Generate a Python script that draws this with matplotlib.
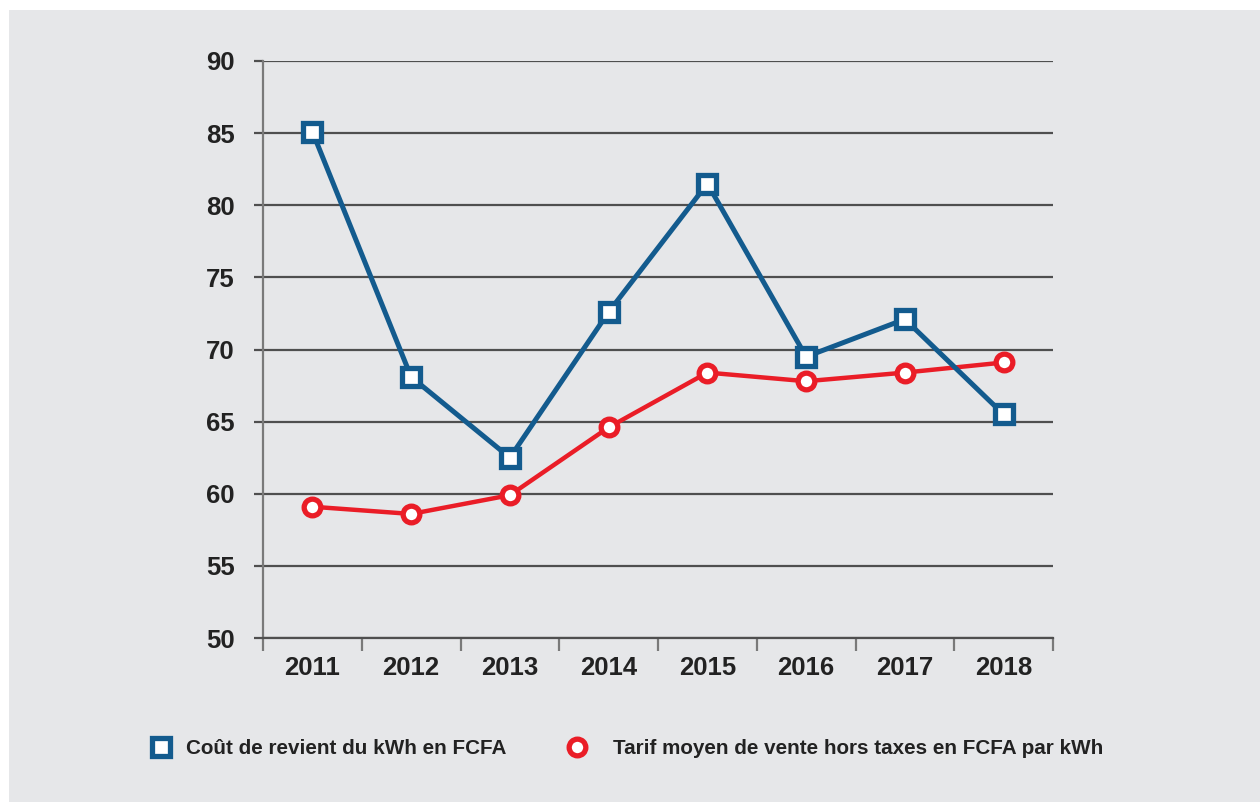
import matplotlib
matplotlib.use("Agg")
import matplotlib.pyplot as plt
from matplotlib.lines import Line2D
from matplotlib.patches import Rectangle
from matplotlib.ticker import FixedLocator, NullFormatter, FixedFormatter

plt.rcParams['font.family'] = ['Liberation Sans', 'DejaVu Sans']

years = ['2011', '2012', '2013', '2014', '2015', '2016', '2017', '2018']
cout_revient = [85.1, 68.1, 62.5, 72.6, 81.5, 69.5, 72.1, 65.5]
tarif_moyen = [59.1, 58.6, 59.9, 64.6, 68.4, 67.8, 68.4, 69.1]
y_ticks = [50, 55, 60, 65, 70, 75, 80, 85, 90]
label_cout = "Coût de revient du kWh en FCFA"
label_tarif = "Tarif moyen de vente hors taxes en FCFA par kWh"

BLUE = '#135b8e'
RED = '#ea1d27'
BG = '#e6e7e9'
GRID = '#4f4f4f'
SPINE = '#7a7a7a'

W, H = 1260, 802
fig = plt.figure(figsize=(W / 100, H / 100), dpi=100)
fig.patch.set_facecolor('white')
fig.add_artist(Rectangle((9 / W, 0), 1 - 9 / W, 1 - 10 / H, transform=fig.transFigure,
                         facecolor=BG, edgecolor='none', zorder=-10))

ax = fig.add_axes([263 / W, 1 - 638 / H, (1053 - 263) / W, (638 - 61) / H])
ax.set_facecolor('none')

x = list(range(len(years)))
ax.plot(x, tarif_moyen, color=RED, lw=3.2, marker='o', ms=12, mew=3.8,
        mfc='white', mec=RED, zorder=3, clip_on=False)
ax.plot(x, cout_revient, color=BLUE, lw=3.6, marker='s', ms=12.5, mew=3.8,
        mfc='white', mec=BLUE, zorder=4, clip_on=False)

ax.set_ylim(50, 90)
ax.set_xlim(-0.5, len(years) - 0.5)

ax.set_yticks(y_ticks)
ax.set_yticklabels([str(v) for v in y_ticks])
ax.yaxis.grid(True, color=GRID, lw=1.6)
ax.set_axisbelow(True)
ax.tick_params(axis='y', length=6.5, width=1.6, color=GRID, pad=14,
               labelsize=18.5, labelcolor='#222222')
for lab in ax.get_yticklabels():
    lab.set_fontweight('bold')

bounds = [i - 0.5 for i in range(len(years) + 1)]
ax.xaxis.set_major_locator(FixedLocator(bounds))
ax.xaxis.set_major_formatter(NullFormatter())
ax.xaxis.set_minor_locator(FixedLocator(x))
ax.xaxis.set_minor_formatter(FixedFormatter(years))
ax.tick_params(axis='x', which='major', length=9, width=1.6, color=SPINE)
ax.tick_params(axis='x', which='minor', length=0, pad=13, labelsize=18.5,
               labelcolor='#222222')
for lab in ax.xaxis.get_minorticklabels():
    lab.set_fontweight('bold')

for s in ['top', 'right']:
    ax.spines[s].set_visible(False)
ax.spines['left'].set_color(SPINE)
ax.spines['left'].set_linewidth(1.6)
ax.spines['bottom'].set_color(GRID)
ax.spines['bottom'].set_linewidth(1.6)

h1 = Line2D([], [], ls='none', marker='s', ms=12.5, mew=3.8, mfc='white', mec=BLUE)
h2 = Line2D([], [], ls='none', marker='o', ms=12, mew=3.8, mfc='white', mec=RED)
leg_kw = dict(loc='center left', frameon=False, borderpad=0, borderaxespad=0,
              handlelength=1.0,
              prop={'size': 14.9, 'weight': 'bold'}, labelcolor='#222222')
fig.legend([h1], [label_cout], bbox_to_anchor=(151 / W, 1 - 749 / H),
           handletextpad=0.7, **leg_kw)
fig.legend([h2], [label_tarif], bbox_to_anchor=(567 / W, 1 - 749 / H),
           handletextpad=1.2, **leg_kw)

fig.savefig('out.png', dpi=100, facecolor=fig.get_facecolor())
